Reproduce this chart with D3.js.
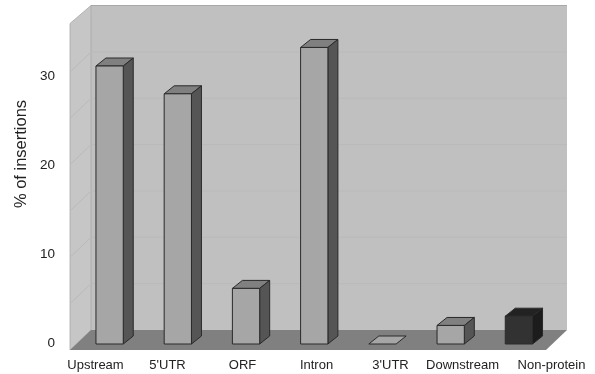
<!DOCTYPE html>
<html lang="en">
<head>
<meta charset="UTF-8">
<title>% of insertions</title>
<style>
    html, body { margin: 0; padding: 0; background: #fff; }
    svg { display: block; }
    text { font-family: "Liberation Sans", Arial, sans-serif; fill: #222; }
</style>
</head>
<body>
<script src="https://d3js.org/d3.v7.min.js"></script>
<script>
const categories = ["Upstream", "5'UTR", "ORF", "Intron", "3'UTR", "Downstream", "Non-protein"];
const insertions = [30, 27, 6, 32, 0, 2, 3];
const yTicks = [0, 10, 20, 30];
const gridValues = [5, 10, 15, 20, 25, 30];

const width = 595, height = 374;

const svg = d3.select("body").append("svg")
    .attr("width", width)
    .attr("height", height);

// the scan is a bit soft, so blur everything slightly
svg.append("defs").append("filter")
    .attr("id", "soft")
    .append("feGaussianBlur")
    .attr("stdDeviation", 0.45);

const g = svg.append("g").attr("filter", "url(#soft)");

// 3d box layout
const frontLeft = 70, frontRight = 546, floorFront = 350;
const wallDx = 21, wallDy = 20, wallTop = 5.5;
const barDx = 10, barDy = 8;

const y = d3.scaleLinear().domain([0, 30]).range([344, 66]);
const x = d3.scaleBand()
    .domain(categories)
    .range([75.5, 553])
    .paddingInner(0.6)
    .paddingOuter(0.3);
// back wall sits 14px above the bar base line
const wallY = v => y(v) - 14;
// tick labels are squeezed compared to the bars, they don't line up with the gridlines
const yLabel = d3.scaleLinear().domain([0, 30]).range([342, 75]);

const pts = p => p.map(d => d.join(",")).join(" ");

// back wall
g.append("polygon")
    .attr("points", pts([[frontLeft + wallDx, wallTop], [frontRight + wallDx, wallTop],
        [frontRight + wallDx, floorFront - wallDy], [frontLeft + wallDx, floorFront - wallDy]]))
    .attr("fill", "#c0c0c0");
g.append("line")
    .attr("x1", frontLeft + wallDx).attr("x2", frontRight + wallDx)
    .attr("y1", wallTop).attr("y2", wallTop)
    .attr("stroke", "#a8a8a8").attr("stroke-width", 1.2);

// side wall
g.append("polygon")
    .attr("points", pts([[frontLeft, wallTop + 18], [frontLeft + wallDx, wallTop],
        [frontLeft + wallDx, floorFront - wallDy], [frontLeft, floorFront]]))
    .attr("fill", "#c6c6c6")
    .attr("stroke", "#a8a8a8")
    .attr("stroke-width", 0.8);

// gridlines
g.selectAll(".grid").data(gridValues).join("polyline")
    .attr("class", "grid")
    .attr("fill", "none")
    .attr("stroke", "#bababa")
    .attr("stroke-width", 1)
    .attr("points", d => pts([[frontLeft, wallY(d) + wallDy],
        [frontLeft + wallDx, wallY(d)], [frontRight + wallDx, wallY(d)]]));

// floor
g.append("polygon")
    .attr("points", pts([[frontLeft, floorFront], [frontLeft + wallDx, floorFront - wallDy],
        [frontRight + wallDx, floorFront - wallDy], [frontRight, floorFront]]))
    .attr("fill", "#808080");

// bars
const bars = g.selectAll(".bar").data(categories.map((c, i) => ({ cat: c, value: insertions[i] })))
    .join("g")
    .attr("class", "bar")
    .attr("stroke", "#2a2a2a")
    .attr("stroke-width", 1)
    .attr("stroke-linejoin", "round");

const isDark = d => d.cat === "Non-protein";

// top
bars.append("polygon")
    .attr("fill", d => d.value === 0 ? "#a6a6a6" : isDark(d) ? "#242424" : "#808080")
    .attr("points", d => {
        const x0 = x(d.cat), x1 = x0 + x.bandwidth(), t = y(d.value);
        return pts([[x0, t], [x1, t], [x1 + barDx, t - barDy], [x0 + barDx, t - barDy]]);
    });

// right side
bars.filter(d => d.value > 0).append("polygon")
    .attr("fill", d => isDark(d) ? "#1c1c1c" : "#555555")
    .attr("points", d => {
        const x1 = x(d.cat) + x.bandwidth();
        return pts([[x1, y(d.value)], [x1 + barDx, y(d.value) - barDy], [x1 + barDx, y(0) - barDy], [x1, y(0)]]);
    });

// front
bars.filter(d => d.value > 0).append("rect")
    .attr("fill", d => isDark(d) ? "#333333" : "#a6a6a6")
    .attr("x", d => x(d.cat))
    .attr("y", d => y(d.value))
    .attr("width", x.bandwidth())
    .attr("height", d => y(0) - y(d.value));

// axes
const yAxis = d3.axisLeft(yLabel).tickValues(yTicks).tickSize(0).tickPadding(0).tickFormat(d3.format("d"));
const yAxisGroup = g.append("g")
    .attr("transform", "translate(55,0)")
    .call(yAxis);
yAxisGroup.select(".domain").remove();
yAxisGroup.selectAll("text").attr("font-size", 13.5).attr("fill", "#222");

// the labels are not evenly spaced in the original
const labelX = d3.scaleOrdinal()
    .domain(categories)
    .range([95, 167, 242, 316, 390, 462, 551]);
const xAxis = d3.axisBottom(labelX).tickSize(0).tickPadding(0);
const xAxisGroup = g.append("g")
    .attr("transform", "translate(0,360)")
    .call(xAxis);
xAxisGroup.select(".domain").remove();
xAxisGroup.selectAll("text").attr("font-size", 13).attr("fill", "#222");

g.append("text")
    .text("% of insertions")
    .attr("transform", "translate(26,154) rotate(-90)")
    .attr("text-anchor", "middle")
    .attr("font-size", 16.5);
</script>
</body>
</html>
